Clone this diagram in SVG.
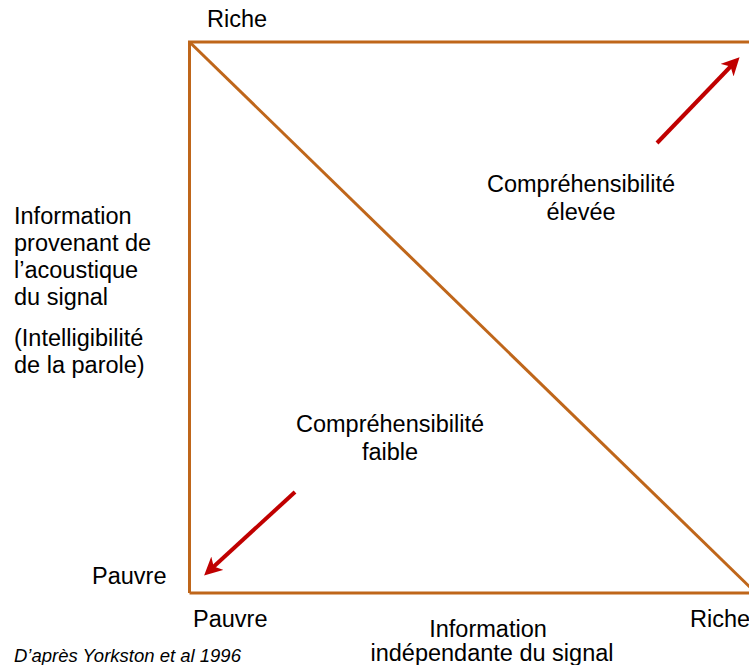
<svg xmlns="http://www.w3.org/2000/svg" width="749" height="665" viewBox="0 0 749 665">
  <style>
    .t { font-family: "Liberation Sans", Arial, sans-serif; font-size: 23.5px; fill: #000; }
    .c { text-anchor: middle; }
    .it { font-family: "Liberation Sans", Arial, sans-serif; font-size: 18.5px; font-style: italic; fill: #000; }
    .box { fill: none; stroke: #BF661A; stroke-width: 3; }
    .arr { fill: none; stroke: #C00000; stroke-width: 4; marker-end: url(#head); }
  </style>
  <defs>
    <marker id="head" markerUnits="userSpaceOnUse" viewBox="0 0 18 18" markerWidth="18" markerHeight="18" refX="10" refY="9" orient="auto">
      <path d="M0,0 L18,9 L0,18 L5,9 z" fill="#C00000"/>
    </marker>
  </defs>
  <rect width="749" height="665" fill="#fff"/>

  <g id="frame">
    <polyline class="box" points="189.5,593 189.5,42 760,42"/>
    <line class="box" x1="189.5" y1="593" x2="760" y2="593"/>
  </g>

  <g id="connectors">
    <line class="box" x1="189.5" y1="42" x2="757" y2="594"/>
    <line class="arr" x1="657" y1="143" x2="734" y2="63"/>
    <line class="arr" x1="295" y1="492" x2="210" y2="570"/>
  </g>

  <g id="y-rich"><text class="t" x="207" y="27">Riche</text></g>
  <g id="y-poor"><text class="t" x="92" y="584">Pauvre</text></g>
  <g id="x-poor"><text class="t" x="193" y="627">Pauvre</text></g>
  <g id="x-rich"><text class="t" x="690" y="627">Riche</text></g>

  <g id="y-axis-label">
    <text class="t" x="14" y="224">Information</text>
    <text class="t" x="14" y="251">provenant de</text>
    <text class="t" x="14" y="278">l’acoustique</text>
    <text class="t" x="14" y="305">du signal</text>
    <text class="t" x="14" y="346">(Intelligibilité</text>
    <text class="t" x="14" y="373">de la parole)</text>
  </g>

  <g id="high">
    <text class="t c" x="581" y="192">Compréhensibilité</text>
    <text class="t c" x="581" y="220">élevée</text>
  </g>

  <g id="low">
    <text class="t c" x="390" y="432">Compréhensibilité</text>
    <text class="t c" x="390" y="460">faible</text>
  </g>

  <g id="x-axis-label">
    <text class="t c" x="488" y="637">Information</text>
    <text class="t c" x="492" y="661">indépendante du signal</text>
  </g>

  <g id="source">
    <text class="it" x="14" y="662">D’après Yorkston et al 1996</text>
  </g>
</svg>
